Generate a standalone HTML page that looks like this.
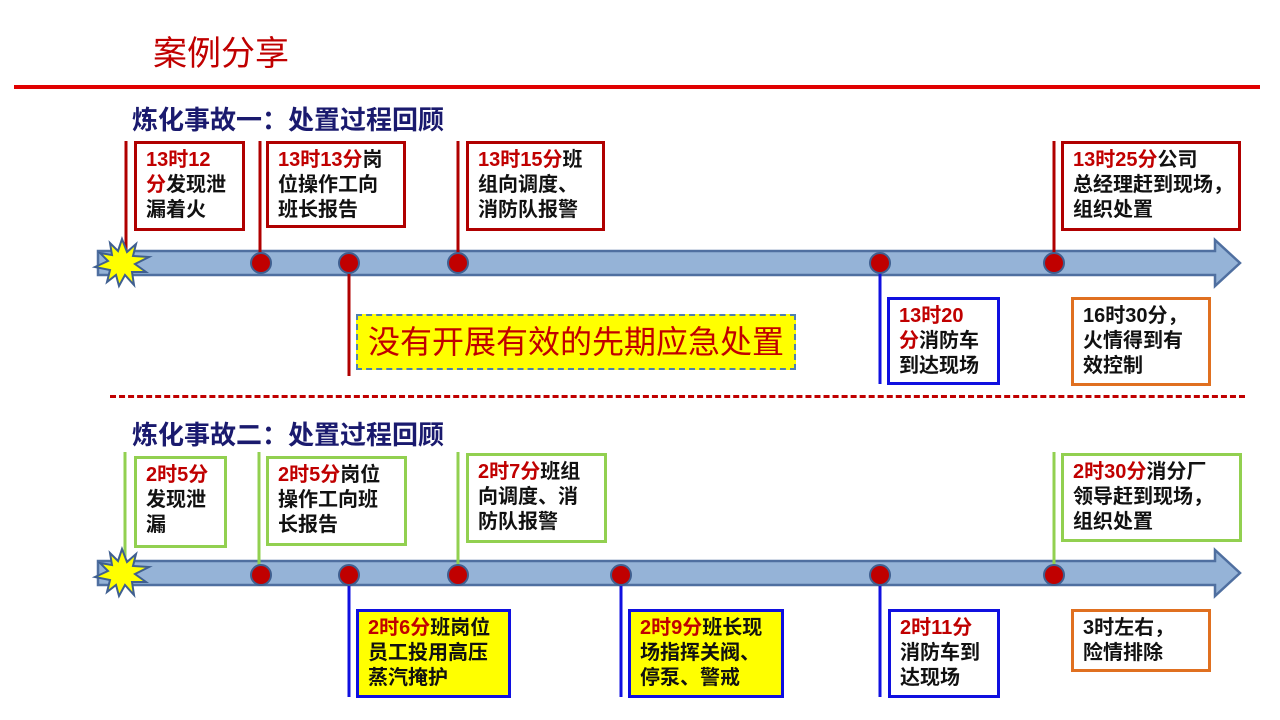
<!DOCTYPE html>
<html><head><meta charset="utf-8">
<style>
*{margin:0;padding:0;box-sizing:border-box}
body{width:1280px;height:720px;background:#fff;position:relative;overflow:hidden;font-family:"Liberation Sans","Noto Sans CJK SC",sans-serif}
.a{position:absolute}
.box{position:absolute;background:#fff;font-weight:bold;font-size:20px;line-height:25px;color:#111;padding:4px 0 0 9px;white-space:nowrap}
.r{color:#c00000}
.rb{border:3px solid #b00000}
.gb{border:3px solid #92d050}
.bb{border:3px solid #1010e0}
.ob{border:3px solid #e07020}
.y{background:#ffff00}
.h{font-size:26px;font-weight:bold;color:#1a1a6e}
</style></head><body>
<div class="a" style="left:153px;top:26px;font-size:34px;color:#c00000">案例分享</div>
<div class="a" style="left:14px;top:85px;width:1246px;height:4px;background:#e00000"></div>
<div class="a h" style="left:132px;top:100px">炼化事故一：处置过程回顾</div>
<div class="a h" style="left:132px;top:415px">炼化事故二：处置过程回顾</div>
<div class="a" style="left:110px;top:395px;width:1135px;border-top:3px dashed #c00000"></div>

<svg class="a" style="left:0;top:0" width="1280" height="720">
<g stroke="#4f6fa0" stroke-width="2.5" fill="#95b3d7">
<polygon points="98,251 1215,251 1215,240 1240,263 1215,286 1215,275 98,275"/>
<polygon points="98,561 1215,561 1215,550 1240,573 1215,596 1215,585 98,585"/>
</g>
<g stroke-width="3">
<line x1="126" y1="141" x2="126" y2="252" stroke="#b00000"/>
<line x1="260" y1="141" x2="260" y2="256" stroke="#b00000"/>
<line x1="458" y1="141" x2="458" y2="256" stroke="#b00000"/>
<line x1="1054" y1="141" x2="1054" y2="256" stroke="#b00000"/>
<line x1="349" y1="263" x2="349" y2="376" stroke="#b00000"/>
<line x1="880" y1="263" x2="880" y2="384" stroke="#1010e0"/>
<line x1="125" y1="452" x2="125" y2="560" stroke="#92d050"/>
<line x1="259" y1="452" x2="259" y2="566" stroke="#92d050"/>
<line x1="458" y1="452" x2="458" y2="566" stroke="#92d050"/>
<line x1="1054" y1="452" x2="1054" y2="566" stroke="#92d050"/>
<line x1="349" y1="573" x2="349" y2="697" stroke="#1010e0"/>
<line x1="621" y1="573" x2="621" y2="697" stroke="#1010e0"/>
<line x1="880" y1="573" x2="880" y2="697" stroke="#1010e0"/>
</g>
<g fill="#c00000" stroke="#3f5f90" stroke-width="2">
<circle cx="261" cy="263" r="10"/><circle cx="349" cy="263" r="10"/><circle cx="458" cy="263" r="10"/><circle cx="880" cy="263" r="10"/><circle cx="1054" cy="263" r="10"/>
<circle cx="261" cy="575" r="10"/><circle cx="349" cy="575" r="10"/><circle cx="458" cy="575" r="10"/><circle cx="621" cy="575" r="10"/><circle cx="880" cy="575" r="10"/><circle cx="1054" cy="575" r="10"/>
</g>
<g fill="#ffff00" stroke="#3f5f90" stroke-width="2">
<polygon transform="translate(122,263)" points="0,-24 5,-11 14,-19 11,-7 27,-6 13,1 24,9 10,9 12,22 3,12 -3,23 -6,12 -15,19 -12,7 -27,4 -14,-2 -22,-10 -10,-8 -12,-20 -4,-12"/>
<polygon transform="translate(122,573)" points="0,-24 5,-11 14,-19 11,-7 27,-6 13,1 24,9 10,9 12,22 3,12 -3,23 -6,12 -15,19 -12,7 -27,4 -14,-2 -22,-10 -10,-8 -12,-20 -4,-12"/>
</g>
</svg>

<div class="box rb" style="left:134px;top:141px;width:111px;height:90px"><span class="r">13时12<br>分</span>发现泄<br>漏着火</div>
<div class="box rb" style="left:266px;top:141px;width:140px;height:87px"><span class="r">13时13分</span>岗<br>位操作工向<br>班长报告</div>
<div class="box rb" style="left:466px;top:141px;width:139px;height:90px"><span class="r">13时15分</span>班<br>组向调度、<br>消防队报警</div>
<div class="box rb" style="left:1061px;top:141px;width:180px;height:90px"><span class="r">13时25分</span>公司<br>总经理赶到现场，<br>组织处置</div>
<div class="a" style="left:356px;top:314px;width:440px;height:56px;background:#ffff00;border:2px dashed #4f7fb0;color:#c00000;font-size:32px;line-height:52px;padding-left:10px;white-space:nowrap">没有开展有效的先期应急处置</div>
<div class="box bb" style="left:887px;top:297px;width:113px;height:88px"><span class="r">13时20<br>分</span>消防车<br>到达现场</div>
<div class="box ob" style="left:1071px;top:297px;width:140px;height:89px">16时30分，<br>火情得到有<br>效控制</div>

<div class="box gb" style="left:134px;top:456px;width:93px;height:92px"><span class="r">2时5分</span><br>发现泄<br>漏</div>
<div class="box gb" style="left:266px;top:456px;width:141px;height:90px"><span class="r">2时5分</span>岗位<br>操作工向班<br>长报告</div>
<div class="box gb" style="left:466px;top:453px;width:141px;height:90px"><span class="r">2时7分</span>班组<br>向调度、消<br>防队报警</div>
<div class="box gb" style="left:1061px;top:453px;width:181px;height:89px"><span class="r">2时30分</span>消分厂<br>领导赶到现场，<br>组织处置</div>
<div class="box bb y" style="left:356px;top:609px;width:155px;height:89px"><span class="r">2时6分</span>班岗位<br>员工投用高压<br>蒸汽掩护</div>
<div class="box bb y" style="left:628px;top:609px;width:156px;height:89px"><span class="r">2时9分</span>班长现<br>场指挥关阀、<br>停泵、警戒</div>
<div class="box bb" style="left:888px;top:609px;width:112px;height:89px"><span class="r">2时11分</span><br>消防车到<br>达现场</div>
<div class="box ob" style="left:1071px;top:609px;width:140px;height:63px">3时左右，<br>险情排除</div>
</body></html>
